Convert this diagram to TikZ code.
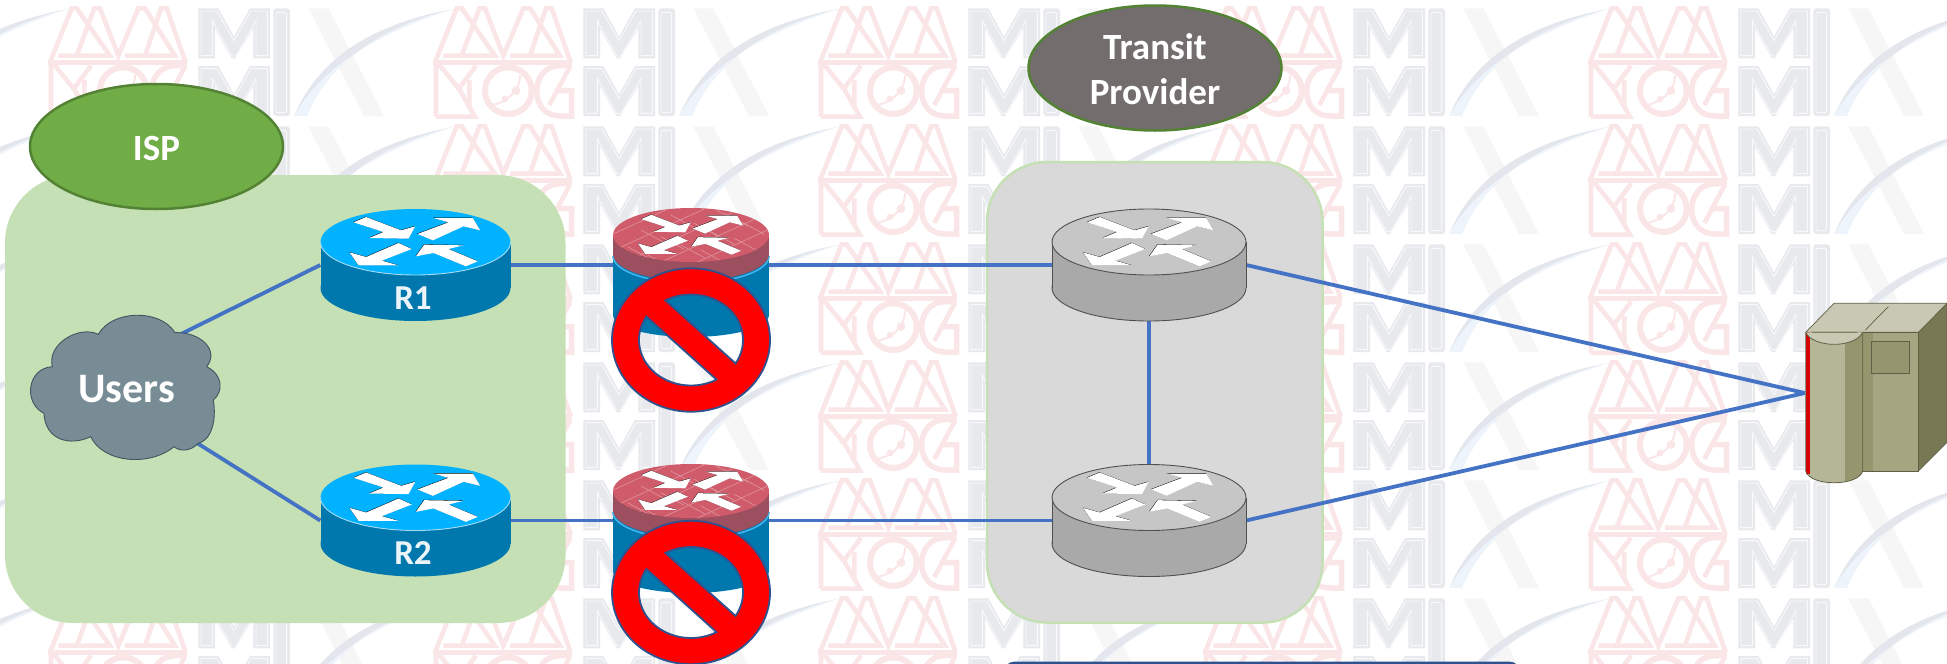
\documentclass[tikz,border=0pt]{standalone}
\usepackage{fontspec}
\setmainfont{Carlito}
\usetikzlibrary{shapes.geometric}
\definecolor{wpink}{HTML}{FBE6E7}
\definecolor{wgrey}{HTML}{E7E9ED}
\definecolor{wlight}{HTML}{F8F9FA}
\definecolor{wx}{HTML}{F6F6F6}
\definecolor{wsw}{HTML}{E3E7ED}
\definecolor{wsb}{HTML}{EEF4FB}
\definecolor{linkblue}{HTML}{4472C4}
\definecolor{ispbox}{HTML}{C5E0B4}
\definecolor{ispfill}{HTML}{70AD47}
\definecolor{ispedge}{HTML}{548235}
\definecolor{transfill}{HTML}{736E6D}
\definecolor{transbox}{HTML}{D9D9D9}
\definecolor{rtop}{HTML}{00B2FF}
\definecolor{rside}{HTML}{0078AD}
\definecolor{rrim}{HTML}{A6DDF5}
\definecolor{gtop}{HTML}{C6C6C6}
\definecolor{gside}{HTML}{A9A9A9}
\definecolor{gedge}{HTML}{505050}
\definecolor{ftop}{HTML}{CF5B6B}
\definecolor{fside}{HTML}{9C4F5E}
\definecolor{fbrick}{HTML}{E08F99}
\definecolor{frim}{HTML}{3FB4EE}
\definecolor{noedge}{HTML}{2F528F}
\definecolor{cloudfill}{HTML}{778C95}
\definecolor{cloudedge}{HTML}{3F5560}
\definecolor{svtop}{HTML}{C9C9B3}
\definecolor{svside}{HTML}{787855}
\definecolor{svfront}{HTML}{A5A582}
\definecolor{svdark}{HTML}{96966E}
\definecolor{svcyl}{HTML}{B5B597}
\definecolor{svline}{HTML}{5F5F45}
\tikzset{
  link/.style={draw=linkblue,line width=3.8pt},
  anchorbox/.style={rectangle,inner sep=0pt,minimum width=#1,minimum height=112pt},
  labeltext/.style={text=white,font=\bfseries\fontsize{35}{42}\selectfont,anchor=base,inner sep=0pt},
  badge/.style={ellipse,draw=ispedge,line width=2.5pt,text=white,inner sep=0pt,align=center,
    font=\bfseries\fontsize{37}{45}\selectfont,minimum width=253pt,minimum height=125pt},
  wstroke/.style={draw=wpink,line width=4.6pt,line join=miter},
}
\newcommand\wmM[1]{%
  \begin{scope}[yshift=-#1pt]
  \fill[wgrey] (490,25)--(550,25)--(597,110)--(645,25)--(705,25)--(705,175)--(655,175)--(655,85)--(600,175)--(590,175)--(540,85)--(540,175)--(490,175)--cycle;
  \draw[wlight,line width=.9pt] (498,33)--(546,33)--(597,122)--(648,33)--(697,33)--(697,167)--(663,167)--(663,62)--(603,168)--(590,168)--(532,62)--(532,167)--(498,167)--cycle;
  \end{scope}}
\newcommand\wmtile[2]{%
  \begin{scope}[shift={(#1,#2)},scale=1/3]
  \fill[wx] (820,25)--(880,25)--(1047,348)--(987,348)--cycle;
  \fill[wsw] (778,346) .. controls (850,180) and (1000,75) .. (1254,27) .. controls (1030,85) and (880,190) .. (815,348) -- cycle;
  \fill[wsb] (778,346) -- (815,348) .. controls (880,190) and (1030,85) .. (1254,27) .. controls (1030,100) and (860,200) .. (778,346) -- cycle;
  \draw[wstroke] (45,187)--(110,25)--(125,25)--(225,167)--(70,167) (125,167)--(178,25)--(195,25)--(250,167)--(310,25)--(330,25)--(420,167)--(270,167) (330,167)--(378,25)--(395,25)--(452,187);
  \draw[wstroke] (40,187)--(455,187);
  \draw[wstroke] (48,350)--(48,197)--(60,197)--(118,268)--(165,350)--(48,350) (168,197)--(112,272) (148,325)--(148,240);
  \draw[wpink,line width=6pt] (265,272) circle [radius=70];
  \draw[wpink,line width=2pt] (215,315) .. controls (250,310) and (300,280) .. (300,225);
  \fill[wpink] (255,297) circle [radius=10] (288,272) circle [radius=13];
  \draw[wpink,line width=5.5pt] (455,197) -- (420,197) .. controls (375,197) and (350,235) .. (350,272) .. controls (350,320) and (380,348) .. (420,348) -- (455,348) -- (455,272) -- (405,272);
  \draw[wstroke] (450,200)--(388,315);
  \wmM{0}\wmM{173}
  \fill[wgrey,rounded corners=3pt] (715,25) rectangle (765,348);
  \draw[wlight,line width=.9pt,rounded corners=2pt] (723,37) rectangle (755,338);
  \end{scope}}
\newcommand\arrowset[1]{%
  \fill[#1] (-186,-59)--(-148,-75)--(-43,-35)--(-1,-47)--(-21,-10)--(-139,-12)--(-96,-30)--cycle
  (6,-24)--(99,-59)--(54,-72)--(172,-72)--(194,-35)--(144,-47)--(52,-5)--cycle
  (-51,3)--(-11,21)--(-101,56)--(-51,70)--(-171,70)--(-198,31)--(-148,45)--cycle
  (1,43)--(26,8)--(144,10)--(99,21)--(187,58)--(151,73)--(54,33)--cycle;}
\newcommand\arrowsat[4]{%
  \begin{scope}[shift={(#1,#2)},xscale=#3,yscale=#4]
  \begin{scope}[xshift=-1pt,yshift=1pt]\arrowset{black}\end{scope}
  \arrowset{white}
  \end{scope}}
\newcommand\bluerouter[2]{%
  \fill[rside] (#1,{#2+46}) circle [x radius=95pt,y radius=33pt];
  \fill[rside] ({#1-95},#2) rectangle ({#1+95},{#2+46});
  \fill[rtop] (#1,#2) circle [x radius=95pt,y radius=33pt];
  \draw[rrim,line width=.9pt] plot[domain=0:180,samples=40] ({#1+95*cos(\x)},{#2+33*sin(\x)});
  \arrowsat{#1}{#2}{1/3}{1/3}}
\newcommand\greyrouter[2]{%
  \draw[gedge,fill=gside,line width=.9pt] (#1,{#2+46}) circle [x radius=97pt,y radius=33pt];
  \fill[gside] ({#1-97},#2) rectangle ({#1+97},{#2+46});
  \draw[gedge,line width=.9pt] ({#1-97},#2)--({#1-97},{#2+46}) ({#1+97},#2)--({#1+97},{#2+46});
  \draw[gedge,fill=gtop,line width=.9pt] (#1,#2) circle [x radius=97pt,y radius=33pt];
  \arrowsat{#1}{#2}{1/3}{1/3}}
\newcommand\firerouter[2]{%
  \fill[rside] (#1,{#2+80}) circle [x radius=78pt,y radius=22pt];
  \fill[rside] ({#1-78},#2) rectangle ({#1+78},{#2+80});
  \draw[frim,line width=1.6pt] plot[domain=0:180,samples=40] ({#1+78*cos(\x)},{#2+21+27*sin(\x)});
  \fill[fside] (#1,{#2+19}) circle [x radius=78pt,y radius=27pt];
  \fill[fside] ({#1-78},#2) rectangle ({#1+78},{#2+19});
  \fill[ftop] (#1,#2) circle [x radius=78pt,y radius=27pt];
  \begin{scope}
  \clip (#1,#2) circle [x radius=78pt,y radius=27pt];
  \begin{scope}[shift={(#1,#2)},scale=1/3]
  \foreach \b in {-110,-60,-10,40,90}
    \draw[fbrick,line width=.7pt] (-240,{\b+110}) -- (240,{\b-110});
  \foreach \p/\q in {-150/-15,-60/-60,30/-100,-190/35,-90/5,10/-35,100/-65,-130/60,-30/30,60/-10,150/-40,30/45,130/10}
    \draw[fbrick,line width=.7pt] (\p,\q) -- ({\p+70},{\q+38});
  \end{scope}
  \end{scope}
  \arrowsat{#1}{#2}{.268}{.27}}
\newcommand\nosign[2]{%
  \draw[noedge,line width=1.8pt,fill=red,even odd rule]
    (#1,#2) circle [x radius=79pt,y radius=71.7pt]
    plot[domain=-119.5:31,samples=40] ({#1+52*cos(\x)},{#2+45.5*sin(\x)}) -- cycle
    plot[domain=211:60.6,samples=40] ({#1+52*cos(\x)},{#2+45.5*sin(\x)}) -- cycle;}
\begin{document}
\begin{tikzpicture}[x=1pt,y=-1pt]
\useasboundingbox (0,0) rectangle (1947,664);
\clip (0,0) rectangle (1947,664);
\fill[white] (0,0) rectangle (1947,664);
% watermark
\foreach \tx in {-350,35,420,805,1190,1575}
  \foreach \ty in {0,118,236,354,472,590}
    {\wmtile{\tx}{\ty}}
% group panels
\fill[ispbox,rounded corners=68pt] (5,175) rectangle (565.5,623);
\draw[ispbox,fill=transbox,line width=2.5pt,rounded corners=60pt] (987,162) rectangle (1322.5,622.5);
\fill[noedge,rounded corners=12pt] (1003,661.5) rectangle (1521,700);
% named places for connectors
\node[anchorbox=190pt] (r1) at (415.5,265) {};
\node[anchorbox=190pt] (r2) at (415.5,520.5) {};
\node[anchorbox=194pt] (g1) at (1149,265) {};
\node[anchorbox=194pt] (g2) at (1149,520.5) {};
\node[rectangle,inner sep=0pt,minimum width=142pt,minimum height=360pt] (server) at (1876,393) {};
\coordinate (usersa) at (179,335);
\coordinate (usersb) at (197,443);
% connectors
\draw[link] (usersa) -- (r1.west);
\draw[link] (usersb) -- (r2.west);
\draw[link] (r1.east) -- (g1.west);
\draw[link] (r2.east) -- (g2.west);
\draw[link] (g1.south) -- (g2.north);
\draw[link] (g1.east) -- (server.west);
\draw[link] (g2.east) -- (server.west);
% cloud
\begin{scope}[shift={(20,300)},scale=1/3]
\draw[cloudedge,fill=cloudfill,line width=.9pt] (97,200) .. controls (80,130) and (180,75) .. (235,103)
  .. controls (275,30) and (420,25) .. (465,98)
  .. controls (540,95) and (600,150) .. (560,200)
  .. controls (610,225) and (610,275) .. (580,300)
  .. controls (590,360) and (575,420) .. (535,430)
  .. controls (510,455) and (480,455) .. (462,440)
  .. controls (390,500) and (250,490) .. (212,410)
  .. controls (150,440) and (75,420) .. (72,340)
  .. controls (10,310) and (20,205) .. (97,200) -- cycle;
\end{scope}
\node[labeltext,font=\bfseries\fontsize{42}{48}\selectfont] (users) at (126.7,402) {Users};
% routers
\bluerouter{415.5}{242}
\bluerouter{415.5}{497.5}
\greyrouter{1149}{242}
\greyrouter{1149}{497.5}
\firerouter{691}{235}
\firerouter{691}{491}
\nosign{691}{340}
\nosign{691}{592.5}
\node[labeltext,text=white!92!rside] (r1label) at (413,309.3) {R1};
\node[labeltext,text=white!92!rside] (r2label) at (413,564) {R2};
% badges
\node[badge,fill=ispfill,text height=27pt,text depth=0pt] (isp) at (156.5,146.5) {ISP};
\node[badge,fill=transfill] (transit) at (1155,68) {};
\node[text=white,inner sep=0pt,align=center,font=\bfseries\fontsize{37}{45}\selectfont] (transitlabel) at (1155,69) {Transit\\Provider};
% server
\begin{scope}[shift={(1760,280)},scale=1/3]
\draw[svline,fill=svside,line width=.7pt] (475,157)--(561,70)--(561,487)--(475,573)--cycle;
\draw[svline,fill=svtop,line width=.7pt] (137,157)--(222,70)--(561,70)--(475,157)--cycle;
\draw[svline,fill=svfront,line width=.7pt] (305,157) rectangle (475,573);
\fill[svdark] (306,158) rectangle (338,572);
\draw[svline,fill=svdark,line width=.7pt] (335,184) rectangle (447,281);
\fill[svcyl] (137,157) rectangle (308,573);
\fill[svcyl] (137,573) .. controls (150,620) and (295,620) .. (308,573) -- cycle;
\fill[svdark] (255,157) rectangle (308,573);
\fill[svdark] (255,573) -- (255,604) .. controls (285,600) and (305,590) .. (308,573) -- cycle;
\fill[red!85!black] (137,157) rectangle (150,582);
\draw[svline,line width=.8pt] (137,157)--(137,573) .. controls (150,620) and (295,620) .. (308,573) -- (308,157);
\fill[svtop] (137,157) .. controls (160,205) and (285,205) .. (308,157) -- cycle;
\draw[svline,line width=.8pt] (137,157) .. controls (160,205) and (285,205) .. (308,157);
\draw[svline,line width=.7pt] (155,157)--(292,157) (316,150)--(385,80);
\end{scope}
\end{tikzpicture}
\end{document}
